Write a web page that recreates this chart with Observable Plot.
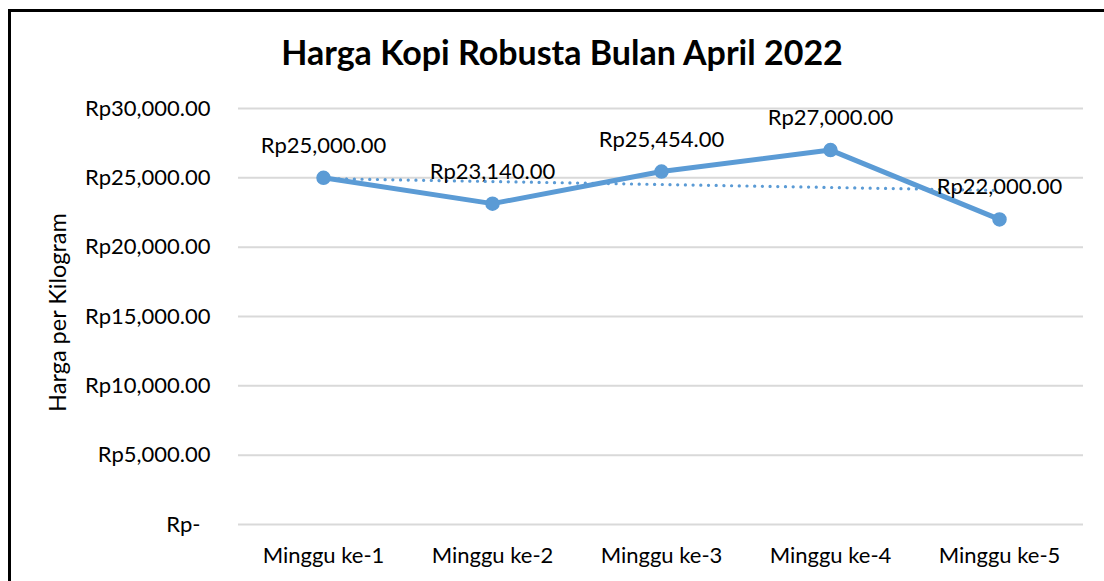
<!DOCTYPE html>
<html>
<head>
<meta charset="utf-8">
<script src="https://cdn.jsdelivr.net/npm/d3@7"></script>
<script src="https://cdn.jsdelivr.net/npm/@observablehq/plot@0.6"></script>
<style>
  html, body { margin: 0; padding: 0; background: #fff; overflow: hidden; }
  #wrap { position: relative; width: 1104px; height: 581px; }
  #frame { position: absolute; left: 8px; top: 9px; width: 1200px; height: 700px;
           border-top: 3px solid #000; border-left: 3px solid #000; box-sizing: border-box; }
  #title { position: absolute; left: 0; width: 1124px; top: 32px; text-align: center;
           font-family: Lato, sans-serif; font-weight: 700; font-size: 34px; line-height: 1.2; color: #000; }
  #chart { position: absolute; left: 0; top: 0; }
</style>
</head>
<body>
<div id="wrap">
  <div id="frame"></div>
  <div id="chart"></div>
  <div id="title">Harga Kopi Robusta Bulan April 2022</div>
</div>
<script>
const categories = ["Minggu ke-1", "Minggu ke-2", "Minggu ke-3", "Minggu ke-4", "Minggu ke-5"];
const prices = [25000, 23140, 25454, 27000, 22000];
const trendCategories = ["Minggu ke-1", "Minggu ke-5"];
const trendValues = [24947, 24091];
const yTicks = [0, 5000, 10000, 15000, 20000, 25000, 30000];

const data = categories.map((c, i) => ({week: c, price: prices[i]}));
const trend = trendCategories.map((c, i) => ({week: c, price: trendValues[i]}));

const fmt = v => v === 0 ? "Rp-" : "Rp" + d3.format(",.2f")(v);
const blue = "#5b9bd5";

const chart = Plot.plot({
  width: 1104,
  height: 581,
  marginLeft: 238,
  marginRight: 21,
  marginTop: 108,
  marginBottom: 57,
  style: {fontFamily: "Lato, sans-serif", fontSize: "22px", color: "#000", background: "transparent", overflow: "visible"},
  x: {type: "point", domain: categories, padding: 0.5, label: null},
  y: {domain: [0, 30000], label: null},
  marks: [
    Plot.ruleY(yTicks, {stroke: "#d9d9d9", strokeWidth: 2}),
    Plot.axisY(yTicks.filter(v => v !== 0), {tickSize: 0, tickPadding: 28, tickFormat: fmt, fontSize: 22, fill: "#000", label: null}),
    Plot.axisY(yTicks.filter(v => v === 0), {tickSize: 0, tickPadding: 38, tickFormat: fmt, fontSize: 22, fill: "#000", label: null}),
    Plot.text(["Harga per Kilogram"], {frameAnchor: "left", dx: -180, dy: -4, rotate: -90, fontSize: 23.5, fill: "#000", textAnchor: "middle"}),
    Plot.axisX(categories, {tickSize: 0, tickPadding: 23, fontSize: 22, fill: "#000", label: null}),
    Plot.line(trend, {x: "week", y: "price", stroke: blue, strokeWidth: 3.2, strokeDasharray: "0.1 7.6", strokeLinecap: "round"}),
    Plot.line(data, {x: "week", y: "price", stroke: blue, strokeWidth: 5, strokeLinejoin: "round"}),
    Plot.dot(data, {x: "week", y: "price", r: 6.5, fill: blue, stroke: blue}),
    Plot.text(data, {x: "week", y: "price", text: d => fmt(d.price), dy: -32, fontSize: 22, fill: "#000"})
  ]
});
document.getElementById("chart").appendChild(chart);
</script>
</body>
</html>
